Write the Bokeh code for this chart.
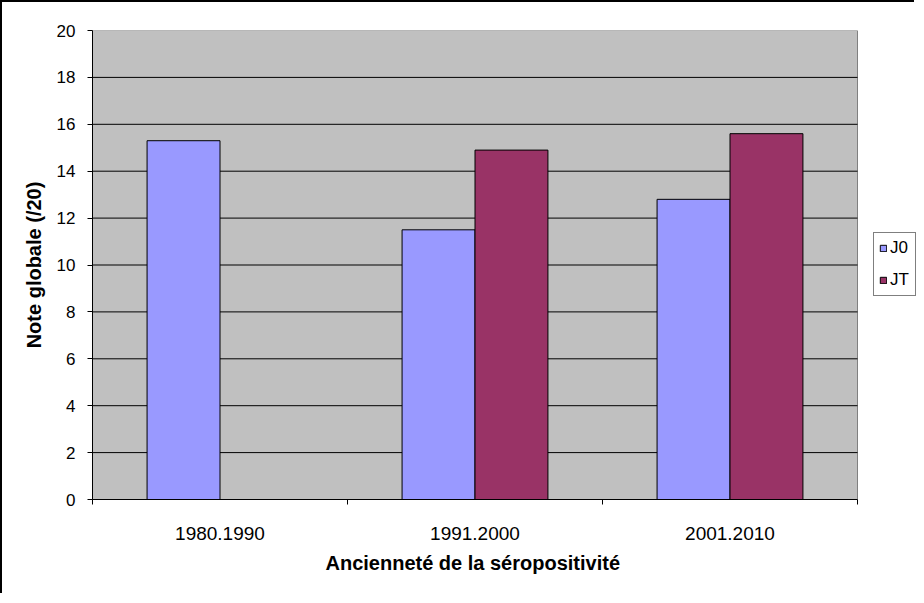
from bokeh.plotting import figure
from bokeh.models import ColumnDataSource, FixedTicker, Legend, LegendItem, Range1d, Title
from bokeh.embed import file_html
from bokeh.resources import INLINE

categories = ["1980.1990", "1991.2000", "2001.2010"]
j0_values = [15.3, 11.5, 12.8]
jt_values = [None, 14.9, 15.6]
series_names = ["J0", "JT"]
y_ticks = [0, 2, 4, 6, 8, 10, 12, 14, 16, 18, 20]
x_title = "Ancienneté de la séropositivité"
y_title = "Note globale (/20)"

J0_COLOR = "#9999FF"
JT_COLOR = "#993366"
AREA_COLOR = "#C0C0C0"
FONT = "Liberation Sans"
BAR_W = 0.286
OFFSET = 0.143

N = len(categories)
Y_MAX = y_ticks[-1]
centers = [i + 0.5 for i in range(N)]

# frame runs to the right edge of the canvas; the grey plot area covers 0..N
FIG_W, FIG_H = 914, 593
BORDER_L = 90
AREA_PX = 765
x_end = N * (FIG_W - BORDER_L) / AREA_PX

src_j0 = ColumnDataSource(dict(x=[c - OFFSET for c in centers], top=j0_values))
jt_x = [c + OFFSET for c, v in zip(centers, jt_values) if v is not None]
jt_top = [v for v in jt_values if v is not None]
src_jt = ColumnDataSource(dict(x=jt_x, top=jt_top))

p = figure(width=FIG_W, height=FIG_H, output_backend="svg", toolbar_location=None,
           x_range=Range1d(0, x_end), y_range=Range1d(0, Y_MAX),
           min_border_left=BORDER_L, min_border_right=0, min_border_top=28,
           min_border_bottom=FIG_H - 28 - 469)
p.styles = {"border-left": "2px solid black", "border-top": "2px solid black"}

p.background_fill_color = "white"
p.border_fill_color = "white"
p.outline_line_color = None

# grey plot area
p.quad(left=[0], right=[N], bottom=[0], top=[Y_MAX], fill_color=AREA_COLOR,
       line_color="#808080", line_width=1)

# horizontal gridlines over the plot area only
grid_y = y_ticks[1:-1]
p.segment(x0=[0] * len(grid_y), x1=[N] * len(grid_y), y0=grid_y, y1=grid_y,
          line_color="black", line_width=1)

r0 = p.vbar(x="x", top="top", width=BAR_W, source=src_j0, fill_color=J0_COLOR,
            line_color="black", line_width=1)
r1 = p.vbar(x="x", top="top", width=BAR_W, source=src_jt, fill_color=JT_COLOR,
            line_color="black", line_width=1)

# y axis
p.yaxis.ticker = FixedTicker(ticks=y_ticks)
p.yaxis.axis_line_color = "black"
p.yaxis.major_tick_out = 5
p.yaxis.major_tick_in = 0
p.yaxis.minor_tick_line_color = None
p.yaxis.major_label_standoff = 12
p.yaxis.major_label_text_font = FONT
p.yaxis.major_label_text_font_size = "17px"
p.yaxis.major_label_text_color = "black"
p.yaxis.axis_label = y_title
p.yaxis.axis_label_text_font = FONT
p.yaxis.axis_label_text_font_size = "20px"
p.yaxis.axis_label_text_font_style = "bold"
p.yaxis.axis_label_text_color = "black"
p.yaxis.axis_label_standoff = 9

# x axis
boundaries = list(range(N + 1))
p.xaxis.bounds = (0, N)
p.xaxis.ticker = FixedTicker(ticks=centers, minor_ticks=boundaries)
p.xaxis.major_label_overrides = {c: name for c, name in zip(centers, categories)}
p.xaxis.major_tick_line_color = None
p.xaxis.major_tick_out = 0
p.xaxis.major_tick_in = 0
p.xaxis.minor_tick_out = 5
p.xaxis.minor_tick_in = 0
p.xaxis.minor_tick_line_color = "black"
p.xaxis.axis_line_color = "black"
p.xaxis.major_label_standoff = 22
p.xaxis.major_label_text_font = FONT
p.xaxis.major_label_text_font_size = "19px"
p.xaxis.major_label_text_color = "black"

# x axis title, centred under the grey plot area (not the wider frame)
p.add_layout(Title(text=x_title, align="left", offset=233, vertical_align="top",
                   standoff=18, text_font=FONT, text_font_size="20px",
                   text_font_style="bold", text_color="black"), "below")

p.xgrid.grid_line_color = None
p.ygrid.grid_line_color = None

legend = Legend(items=[LegendItem(label=series_names[0], renderers=[r0]),
                       LegendItem(label=series_names[1], renderers=[r1])],
                location=(781, 203), orientation="vertical",
                border_line_color="black", border_line_width=1,
                background_fill_color="white", background_fill_alpha=1,
                padding=5, spacing=12, margin=0,
                glyph_width=8, glyph_height=8, label_height=17,
                label_standoff=3, label_text_font=FONT,
                label_text_font_size="17px", label_text_color="black")
p.add_layout(legend, "center")

open("out.html", "w").write(file_html(p, INLINE))
